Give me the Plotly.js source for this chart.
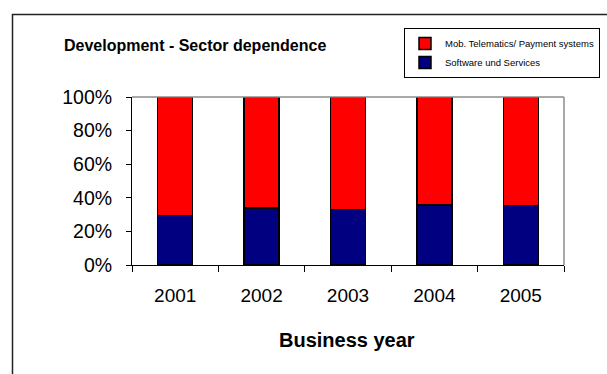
<!DOCTYPE html>
<html>
<head>
<meta charset="utf-8">
<script src="https://cdn.plot.ly/plotly-3.0.1.min.js"></script>
<style>html,body{margin:0;padding:0;background:#fff;}</style>
</head>
<body>
<div id="chart" style="width:607px;height:374px;"></div>
<script>
// Data
var years = ['2001', '2002', '2003', '2004', '2005'];
var softwareServices = [29.5, 34, 33, 35.7, 35.5];
var mobTelematics = [70.5, 66, 67, 64.3, 64.5];
var yTickVals = [0, 20, 40, 60, 80, 100];
var yTickText = ['0%', '20%', '40%', '60%', '80%', '100%'];

var FONT = 'Liberation Sans, Arial, sans-serif';

// plot area in pixels
var L = 132, R = 564, T = 97, B = 265, W = 607, H = 374;
function px(x) { return (x - L) / (R - L); }
function py(y) { return (B - y) / (B - T); }

var traces = [
  {
    type: 'bar', name: 'Software und Services', x: years, y: softwareServices,
    marker: {color: '#000080', line: {color: '#000', width: 1.5}}
  },
  {
    type: 'bar', name: 'Mob. Telematics/ Payment systems', x: years, y: mobTelematics,
    marker: {color: '#FF0000', line: {color: '#000', width: 1.5}}
  }
];

var layout = {
  width: W, height: H,
  margin: {l: L, r: W - R, t: T, b: H - B, autoexpand: false},
  paper_bgcolor: '#fff', plot_bgcolor: '#fff',
  barmode: 'stack', bargap: 0.595,
  font: {family: FONT, color: '#000'},
  showlegend: true,
  legend: {
    x: px(404), xanchor: 'left', y: py(28), yanchor: 'top',
    bordercolor: '#000', borderwidth: 1, bgcolor: '#fff',
    font: {family: FONT, size: 9.5, color: '#000'},
    traceorder: 'reversed'
  },
  xaxis: {
    type: 'category', tickson: 'boundaries',
    ticks: 'outside', ticklen: 6, tickcolor: '#000', tickwidth: 1,
    showline: true, linecolor: '#000', linewidth: 1,
    showgrid: false, zeroline: false,
    tickfont: {family: FONT, size: 19, color: '#000'},
    ticklabelstandoff: 13
  },
  yaxis: {
    range: [0, 100], tickvals: yTickVals, ticktext: yTickText,
    ticks: 'outside', ticklen: 5, tickcolor: '#000', tickwidth: 1,
    showline: true, linecolor: '#000', linewidth: 1,
    showgrid: false, zeroline: false,
    tickfont: {family: FONT, size: 19.5, color: '#000'},
    ticklabelstandoff: 10
  },
  shapes: [
    {type: 'line', xref: 'paper', yref: 'paper', x0: 0, x1: 1, y0: 1, y1: 1, line: {color: '#8c8c8c', width: 1.5}},
    {type: 'line', xref: 'paper', yref: 'paper', x0: 1, x1: 1, y0: 0, y1: 1, line: {color: '#8c8c8c', width: 1.5}},
    {type: 'rect', xref: 'paper', yref: 'paper', x0: px(12.5), x1: px(620), y0: py(390), y1: py(14.5), line: {color: '#222', width: 1.5}}
  ],
  annotations: [
    {text: '<b>Development - Sector dependence</b>', xref: 'paper', yref: 'paper',
     x: px(62), xanchor: 'left', y: py(45), yanchor: 'middle', showarrow: false,
     font: {family: FONT, size: 16, color: '#000'}},
    {text: '<b>Business year</b>', xref: 'paper', yref: 'paper',
     x: px(347), xanchor: 'center', y: py(340), yanchor: 'middle', showarrow: false,
     font: {family: FONT, size: 20, color: '#000'}}
  ]
};

Plotly.newPlot('chart', traces, layout, {displayModeBar: false, staticPlot: true});
</script>
</body>
</html>
